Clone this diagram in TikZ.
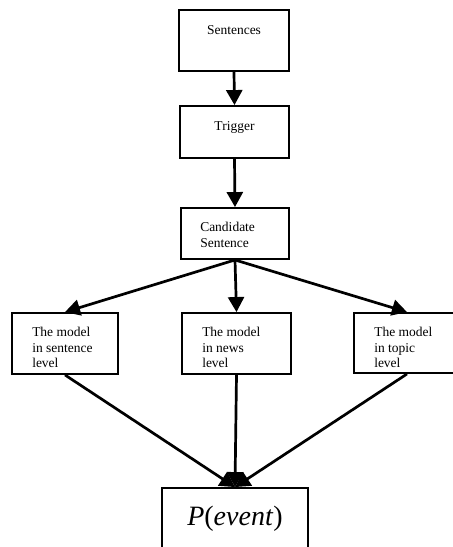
\documentclass[tikz,border=0pt]{standalone}
\usepackage{fontspec}
\setmainfont{Liberation Serif}
\usetikzlibrary{arrows.meta, positioning}

\begin{document}
\begin{tikzpicture}[x=1pt, y=-1pt,
		box/.style={draw, line width=1.9pt, inner sep=0pt},
		txt/.style={inner sep=0pt, font=\fontsize{13.5}{15.5}\selectfont, align=left},
		link/.style={line width=2.7pt, -{Triangle[length=15pt, width=16pt]}}]
		\useasboundingbox (0,0) rectangle (453,547);
		\clip (0,0) rectangle (453,547);
		% chain at the top
		\node [box, minimum width=110pt, minimum height=61pt] (sent) at (234,40.5) {};
		\node [txt] (sentT) at ([yshift=-21pt]sent.north) {Sentences};
		\node [box, minimum width=109pt, minimum height=52pt] (trig) at (234.5,132) {};
		\node [txt] (trigT) at ([yshift=-22pt]trig.north) {Trigger};
		\node [box, minimum width=108pt, minimum height=51pt] (cand) at (235,233.5) {};
		\node [txt, anchor=north west] (candT) at ([xshift=20pt, yshift=-15pt]cand.north west) {Candidate\\Sentence};
		% the three levels
		\node [box, minimum width=106pt, minimum height=61pt] (lev1) at (65,343.5) {};
		\node [box, minimum width=109pt, minimum height=61pt] (lev2) at (236.5,343.5) {};
		\node [box, minimum width=106pt, minimum height=60pt] (lev3) at (407,343) {};
		\node [txt, anchor=north west] (lev1T) at ([xshift=21pt, yshift=-15pt]lev1.north west) {The model\\in sentence\\level};
		\node [txt, anchor=north west] (lev2T) at ([xshift=21pt, yshift=-15pt]lev2.north west) {The model\\in news\\level};
		\node [txt, anchor=north west] (lev3T) at ([xshift=21pt, yshift=-15pt]lev3.north west) {The model\\in topic\\level};
		% result
		\node [box, minimum width=146pt, minimum height=70pt] (prob) at (235,523) {};
		\node [inner sep=0pt, font=\fontsize{28}{30}\selectfont] (probT) at ([yshift=-32pt]prob.north) {\textit{P}(\textit{event})};
		\draw [link] (sent.south) -- (trig.north);
		\draw [link] (trig.south) -- (cand.north);
		\foreach \l in {lev1,lev2,lev3}{
			\draw [link] (cand.south) -- (\l.north);
			\draw [link] (\l.south) -- (prob.north);
		}
	\end{tikzpicture}
\end{document}
